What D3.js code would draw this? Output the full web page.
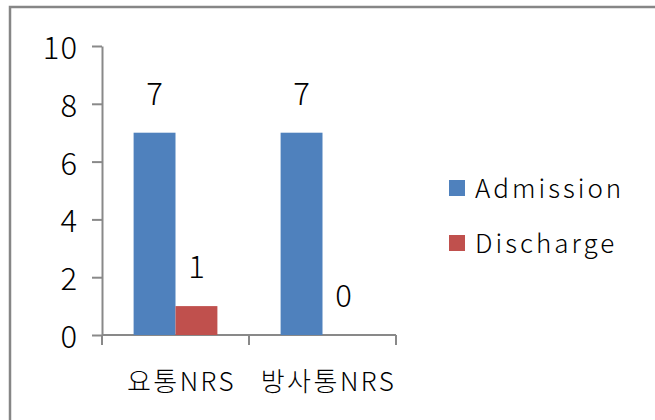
<!DOCTYPE html>
<html>
<head>
<meta charset="utf-8">
<script src="https://cdn.jsdelivr.net/npm/d3@7"></script>
<style>
  body { margin: 0; background: #fff; }
  text { font-family: "Noto Sans CJK KR", "DejaVu Sans", sans-serif; fill: #000; font-weight: 300; }
</style>
</head>
<body>
<div id="chart"></div>
<script>
var svgWidth = 655;
var svgHeight = 420;

// Chart data.
var categories = ["요통NRS", "방사통NRS"];
var seriesNames = ["Admission", "Discharge"];
var admission = [7, 7];
var discharge = [1, 0];
var yTicks = [0, 2, 4, 6, 8, 10];
var colors = ["#4F81BD", "#C0504D"];

var seriesValues = [admission, discharge];

var svg = d3.select("#chart")
    .append("svg")
    .attr("width", svgWidth)
    .attr("height", svgHeight);

svg.append("rect")
    .attr("width", svgWidth)
    .attr("height", svgHeight)
    .attr("fill", "#fff");

// Outer frame, runs past the right and bottom edges.
svg.append("rect")
    .attr("x", 10)
    .attr("y", 7)
    .attr("width", 700)
    .attr("height", 500)
    .attr("fill", "none")
    .attr("stroke", "#868686")
    .attr("stroke-width", 2.5);

var plot = { left: 102, right: 396, top: 46, bottom: 335 };

var yScale = d3.scaleLinear()
    .domain([0, 10])
    .range([plot.bottom, plot.top]);

var xScale = d3.scaleBand()
    .domain(categories)
    .range([plot.left, plot.right])
    .paddingInner(0.43)
    .paddingOuter(0.215);

var xSub = d3.scaleBand()
    .domain(seriesNames)
    .range([0, xScale.bandwidth()]);

var axisColor = "#898989";

// Y axis.
var yAxis = svg.append("g")
    .attr("transform", `translate(${plot.left},0)`)
    .call(d3.axisLeft(yScale).tickValues(yTicks).tickSize(10).tickSizeOuter(0).tickPadding(14));
yAxis.selectAll("path, line").attr("stroke", axisColor).attr("stroke-width", 2);
yAxis.selectAll("text")
    .style("font-size", "31px")
    .style("letter-spacing", "1px")
    .attr("dy", "0.4em");

// X axis: line and boundary ticks.
var step = xScale.step();
var boundaries = categories.map(c => xScale(c) - xScale.paddingInner() * step / 2);
boundaries.push(plot.right);

svg.append("line")
    .attr("x1", plot.left)
    .attr("x2", plot.right)
    .attr("y1", plot.bottom)
    .attr("y2", plot.bottom)
    .attr("stroke", axisColor)
    .attr("stroke-width", 2);

svg.selectAll(".xtick")
    .data(boundaries)
    .enter()
    .append("line")
    .attr("x1", d => d)
    .attr("x2", d => d)
    .attr("y1", plot.bottom)
    .attr("y2", plot.bottom + 10)
    .attr("stroke", axisColor)
    .attr("stroke-width", 2);

// Category labels.
svg.selectAll(".catlabel")
    .data(categories)
    .enter()
    .append("text")
    .attr("x", d => xScale(d) + xScale.bandwidth() / 2 + 6)
    .attr("y", 391)
    .attr("text-anchor", "middle")
    .style("font-size", "26px")
    .style("letter-spacing", "2.5px")
    .text(d => d);

// Bars.
seriesNames.forEach(function(name, si) {
    var g = svg.append("g");
    g.selectAll("rect")
        .data(categories)
        .enter()
        .append("rect")
        .attr("x", (d, i) => xScale(d) + xSub(name))
        .attr("y", (d, i) => yScale(seriesValues[si][i]))
        .attr("width", xSub.bandwidth())
        .attr("height", (d, i) => plot.bottom - yScale(seriesValues[si][i]))
        .attr("fill", colors[si]);

    g.selectAll("text")
        .data(categories)
        .enter()
        .append("text")
        .attr("x", (d, i) => xScale(d) + xSub(name) + xSub.bandwidth() / 2)
        .attr("y", (d, i) => yScale(seriesValues[si][i]) - 28)
        .attr("text-anchor", "middle")
        .style("font-size", "31px")
        .text((d, i) => seriesValues[si][i]);
});

// Legend.
var legend = svg.append("g");
seriesNames.forEach(function(name, i) {
    legend.append("rect")
        .attr("x", 449)
        .attr("y", 180 + i * 55)
        .attr("width", 16)
        .attr("height", 16)
        .attr("fill", colors[i]);
    legend.append("text")
        .attr("x", 475)
        .attr("y", 198 + i * 55)
        .style("font-size", "26px")
        .style("letter-spacing", "3px")
        .text(name);
});
</script>
</body>
</html>
